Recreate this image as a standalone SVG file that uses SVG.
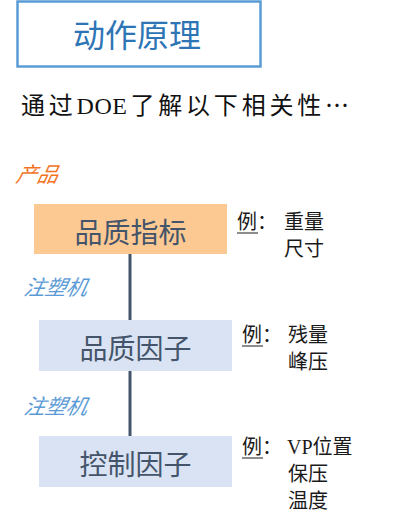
<svg xmlns="http://www.w3.org/2000/svg" width="406" height="528" viewBox="0 0 406 528">
<style>
.title{font-family:"Noto Sans CJK SC",sans-serif;font-size:32px;fill:#2e75b6;text-anchor:middle;}
.intro{font-family:"Noto Sans CJK SC",sans-serif;font-size:24px;fill:#111;letter-spacing:3.8px;}
.lat{font-family:"Liberation Serif",serif;letter-spacing:0.5px;}
.lbl{font-family:"Liberation Serif","Noto Sans CJK SC",serif;font-size:28px;fill:#44546a;text-anchor:middle;}
.ex{font-family:"Liberation Serif","Noto Sans CJK SC",serif;font-size:20px;fill:#1a1a1a;}
.cat{font-family:"Noto Sans CJK SC",sans-serif;font-size:21px;font-style:italic;}
.conn{stroke:#44546a;stroke-width:3;fill:none;}
</style>
<rect width="406" height="528" fill="#ffffff"/>
<g id="title">
<rect x="17.5" y="1.5" width="243" height="65" fill="#ffffff" stroke="#5b9bd5" stroke-width="2.5"/>
<text class="title" x="137" y="47">动作原理</text>
</g>
<g id="intro">
<text class="intro" x="21" y="114">通过<tspan class="lat">DOE</tspan><tspan dx="3">了解以下相关性…</tspan></text>
</g>
<g id="connectors">
<line class="conn" x1="130" y1="254" x2="130" y2="437"/>
</g>
<g id="cat-product"><text class="cat" x="15" y="182" fill="#f4731f" transform="skewX(-12) translate(38.7,0)">产品</text></g>
<g id="cat-machine1"><text class="cat" x="23" y="295" fill="#5b9bd5" transform="skewX(-12) translate(62.7,0)">注塑机</text></g>
<g id="cat-machine2"><text class="cat" x="23" y="414" fill="#5b9bd5" transform="skewX(-12) translate(88,0)">注塑机</text></g>
<g id="node-quality-index">
<rect x="34" y="204" width="193" height="50" fill="#fdc993"/>
<text class="lbl" x="130.5" y="243">品质指标</text>
</g>
<g id="node-quality-factor">
<rect x="39" y="320" width="193" height="51" fill="#dae3f3"/>
<text class="lbl" x="135.5" y="359">品质因子</text>
</g>
<g id="node-control-factor">
<rect x="39" y="436" width="193" height="51" fill="#dae3f3"/>
<text class="lbl" x="135.5" y="475">控制因子</text>
</g>
<g id="ex1">
<text class="ex" x="237" y="229">例：</text>
<line x1="237" y1="233" x2="258" y2="233" stroke="#1a1a1a" stroke-width="1"/>
<text class="ex" x="284" y="229">重量</text>
<text class="ex" x="284" y="256">尺寸</text>
</g>
<g id="ex2">
<text class="ex" x="242" y="342">例：</text>
<line x1="242" y1="346" x2="263" y2="346" stroke="#1a1a1a" stroke-width="1"/>
<text class="ex" x="288" y="342">残量</text>
<text class="ex" x="288" y="369">峰压</text>
</g>
<g id="ex3">
<text class="ex" x="242" y="454">例：</text>
<line x1="242" y1="458" x2="263" y2="458" stroke="#1a1a1a" stroke-width="1"/>
<text class="ex" x="287" y="454">VP位置</text>
<text class="ex" x="288" y="481">保压</text>
<text class="ex" x="288" y="508">温度</text>
</g>
</svg>
